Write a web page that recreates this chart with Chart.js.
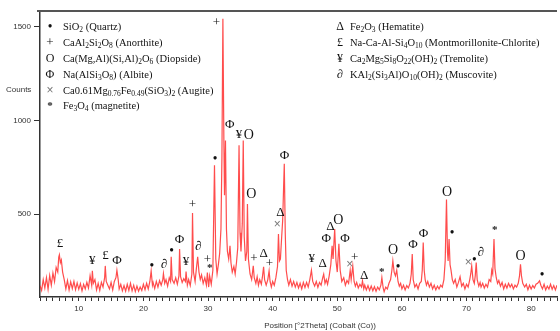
<!DOCTYPE html>
<html>
<head>
<meta charset="utf-8">
<script src="https://cdn.jsdelivr.net/npm/chart.js@4/dist/chart.umd.min.js"></script>
<style>
  html, body { margin: 0; padding: 0; background: #fff; }
  #wrap { width: 560px; height: 331px; }
</style>
</head>
<body>
<div id="wrap"><canvas id="xrd"></canvas></div>
<script>
// scan, [2theta, counts]
const scanLow = [
  [4.00,118],[4.25,92],[4.50,150],[4.75,105],[5.00,160],[5.25,98],[5.50,172],[5.75,120],
  [6.00,185],[6.25,140],[6.50,215],[6.75,190],[6.90,270],[7.00,282],[7.15,240],[7.30,255],
  [7.50,190],[7.75,150],[8.00,100],[8.25,145],[8.50,95],[8.75,138],[9.00,102],[9.25,140],
  [9.50,96],[9.75,132],[10.00,98],[10.25,128],[10.50,90],[10.75,125],[11.00,100],[11.25,135],
  [11.50,105],[11.75,170],[12.00,120],[12.10,197],[12.25,130],[12.50,150],[12.75,95],[13.00,130],
  [13.25,92],[13.50,135],[13.75,110],[14.00,160],[14.10,223],[14.25,140],[14.50,120],[14.75,100],
  [15.00,135],[15.25,95],[15.50,140],[15.75,160],[15.90,200],[16.10,150],[16.25,100],[16.50,125],
  [16.75,90],[17.00,118],[17.25,88],[17.50,125],[17.75,92],[18.00,130],[18.25,90],[18.50,120],
  [18.75,86],[19.00,115],[19.25,88],[19.50,110],[19.75,92],[20.00,125]
];
const scanMid = [
  [20.25,96],[20.50,130],[20.75,100],[21.00,140],[21.20,196],[21.40,120],[21.50,135],[21.75,102],
  [22.00,140],[22.25,110],[22.50,145],[22.75,120],[23.00,150],[23.10,182],[23.30,130],[23.50,150],
  [23.75,115],[24.00,160],[24.20,140],[24.30,272],[24.45,150],[24.75,130],[25.00,160],[25.25,125],
  [25.50,170],[25.60,313],[25.75,165],[26.00,135],[26.25,155],[26.50,140],[26.60,193],[26.80,120],
  [27.00,150],[27.25,118],[27.50,180],[27.60,505],[27.75,190],[28.00,140],[28.20,210],[28.40,272],
  [28.60,190],[28.80,150],[29.00,175],[29.25,130],[29.50,160],[29.75,120],[29.90,188],[30.10,110],
  [30.25,170],[30.50,125],[30.75,200],[31.00,760],[31.20,260],[31.40,180],[31.60,230],[31.80,290],
  [32.00,420],[32.15,800],[32.30,1542],[32.45,900],[32.55,600],[32.70,893],[32.85,420],[33.00,300],
  [33.20,260],[33.40,330],[33.55,240],[33.75,190],[34.00,220],[34.20,180],[34.40,240],[34.60,320],
  [34.80,867],[34.95,400],[35.10,300],[35.30,450],[35.45,893],[35.60,380],[35.80,250],[36.00,300],
  [36.10,554],[36.25,260],[36.50,180],[36.75,150],[37.00,223],[37.15,160],[37.40,130],[37.60,165],
  [37.80,120],[38.00,150],[38.25,125],[38.40,160],[38.60,218],[38.75,150],[39.00,120],[39.25,150],
  [39.45,197],[39.60,140],[39.80,110],[40.00,140],[40.25,120],[40.50,160],[40.75,220],[40.90,393],
  [41.05,250],[41.20,260],[41.40,380],[41.55,465],[41.80,768],[41.95,400],[42.10,200],[42.30,150],
  [42.50,120],[42.75,150],[43.00,115],[43.25,140],[43.50,110],[43.75,135],[44.00,105],[44.25,130],
  [44.50,100],[44.75,135],[45.00,108]
];
const scanHigh = [
  [45.25,135],[45.50,110],[45.75,150],[46.00,200],[46.20,140],[46.50,115],[46.75,140],[47.00,108],
  [47.25,135],[47.50,120],[47.75,160],[47.90,179],[48.10,130],[48.30,150],[48.50,125],[48.75,170],
  [49.00,230],[49.20,331],[49.35,260],[49.60,420],[49.80,250],[50.00,190],[50.25,341],[50.45,200],
  [50.70,140],[51.00,160],[51.25,120],[51.50,145],[51.75,130],[52.00,200],[52.15,150],[52.40,223],
  [52.60,140],[52.80,115],[53.00,135],[53.25,105],[53.50,125],[53.75,110],[53.90,143],[54.10,100],
  [54.25,120],[54.50,95],[54.75,118],[55.00,92],[55.25,115],[55.50,90],[55.75,112],[56.00,88],
  [56.25,110],[56.50,95],[56.75,120],[56.90,161],[57.10,105],[57.25,85],[57.50,110],[57.75,100],
  [58.00,130],[58.25,150],[58.45,200],[58.60,250],[58.80,190],[59.00,170],[59.20,200],[59.40,140],
  [59.60,115],[59.80,130],[60.00,100],[60.25,120],[60.50,95],[60.75,118],[61.00,105],[61.25,130],
  [61.45,180],[61.60,286],[61.75,150],[62.00,110],[62.25,125],[62.50,100],[62.75,130],[63.00,140],
  [63.15,200],[63.30,348],[63.45,200],[63.60,150],[63.80,120],[64.00,140],[64.25,110],[64.50,130],
  [64.75,100],[65.00,120],[65.25,95],[65.50,115],[65.75,100],[66.00,120],[66.25,110],[66.50,150],
  [66.70,250],[66.90,577],[67.05,300],[67.15,250],[67.30,366],[67.45,230],[67.60,200],[67.80,150],
  [68.00,130],[68.25,150],[68.50,110],[68.75,135],[69.00,165],[69.25,115],[69.50,130],[69.75,100],
  [70.00,125],[70.25,110],[70.50,150],[70.65,180],[70.80,223],[71.00,150],[71.20,130],[71.35,170],
  [71.50,241],[71.65,150],[71.90,115],[72.10,135],[72.25,110],[72.50,130],[72.75,105],[73.00,125],
  [73.25,110],[73.50,150],[73.75,140],[73.90,200],[74.05,180],[74.25,366],[74.40,210],[74.60,160],
  [74.80,130],[75.00,145],[75.25,115],[75.50,135],[75.75,100],[76.00,125],[76.25,105],[76.50,130],
  [76.75,110],[77.00,125],[77.25,100],[77.50,120],[77.75,110],[78.00,130],[78.20,170],[78.35,232],
  [78.50,170],[78.70,130],[79.00,110],[79.25,125],[79.50,95],[79.75,120],[80.00,100],[80.25,118],
  [80.50,105],[80.75,125],[81.00,130],[81.30,143],[81.50,120],[81.75,100],[82.00,125],[82.25,95],
  [82.50,115],[82.75,100],[83.00,125],[83.25,98],[83.50,118],[83.75,95],[84.00,120]
];

// phase symbols placed over peaks, [2theta, counts, symbol]
const peakMarks = [
  [7.08,340,'£'],[12.1,253,'¥'],[14.15,276,'£'],[15.9,253,'Φ'],[21.3,222,'•'],[23.2,228,'∂'],
  [24.35,303,'•'],[25.6,365,'Φ'],[26.6,244,'¥'],[27.6,552,'+'],[28.5,326,'∂'],[29.9,255,'+'],
  [30.25,210,'*'],[31.1,794,'•'],[31.3,1522,'+'],[33.35,975,'Φ'],[34.8,922,'¥'],[36.3,922,'O'],
  [36.7,606,'O'],[37.1,260,'+'],[38.6,290,'Δ'],[39.5,237,'+'],[40.7,445,'×'],[41.2,509,'Δ'],
  [41.85,812,'Φ'],[46.05,260,'¥'],[47.75,233,'Δ'],[48.3,370,'Φ'],[48.95,432,'Δ'],[50.15,468,'O'],
  [51.2,370,'Φ'],[51.95,232,'×'],[52.7,267,'+'],[54.15,174,'Δ'],[56.9,187,'*'],[58.65,304,'O'],
  [59.4,216,'•'],[61.7,335,'Φ'],[63.35,397,'Φ'],[67.0,614,'O'],[67.75,397,'•'],[70.25,242,'×'],
  [71.2,255,'•'],[72.2,294,'∂'],[74.35,415,'*'],[78.35,276,'O'],[81.7,174,'•']
];

// key, {n} is a subscript
const phasesLeft = [
  ['•', 'SiO{2} (Quartz)'],
  ['+', 'CaAl{2}Si{2}O{8} (Anorthite)'],
  ['O', 'Ca(Mg,Al)(Si,Al){2}O{6} (Diopside)'],
  ['Φ', 'Na(AlSi{3}O{8}) (Albite)'],
  ['×', 'Ca0.61Mg{0.76}Fe{0.49}(SiO{3}){2} (Augite)'],
  ['*', 'Fe{3}O{4} (magnetite)']
];
const phasesRight = [
  ['Δ', 'Fe{2}O{3} (Hematite)'],
  ['£', 'Na-Ca-Al-Si{4}O{10} (Montmorillonite-Chlorite)'],
  ['¥', 'Ca{2}Mg{5}Si{8}O{22}(OH){2} (Tremolite)'],
  ['∂', 'KAl{2}(Si{3}Al)O{10}(OH){2} (Muscovite)']
];

const yTicks = [500, 1000, 1500];

const SERIF = '"Liberation Serif", "Times New Roman", serif';
const SANS = '"Liberation Sans", Arial, sans-serif';

function symbolStyle(s, inKey) {
  if (s === '×') return { font: '12px ' + SANS, color: '#777' };
  if (s === '•') return { font: 'bold 12px ' + SERIF, color: '#111' };
  if (s === '*') return { font: 'bold 11px ' + SERIF, color: '#222' };
  if (s === '+') return { font: '13px ' + SERIF, color: '#111' };
  if (s === 'O') return { font: (inKey ? '12px ' : '14px ') + SERIF, color: '#111' };
  return { font: (inKey ? '12px ' : '13px ') + SERIF, color: '#111' };
}

function drawRich(ctx, str, x, y) {
  const parts = str.split(/\{([^}]*)\}/);
  let cx = x;
  parts.forEach((p, i) => {
    if (!p) return;
    const sub = i % 2 === 1;
    ctx.font = (sub ? '7.5px ' : '10.5px ') + SERIF;
    ctx.fillText(p, cx, sub ? y + 3 : y);
    cx += ctx.measureText(p).width;
  });
}

const overlay = {
  id: 'overlay',
  afterDraw(chart) {
    const { ctx, chartArea } = chart;
    const xs = chart.scales.x, ys = chart.scales.y;
    ctx.save();

    // frame top line
    ctx.strokeStyle = '#555';
    ctx.lineWidth = 2;
    ctx.beginPath();
    ctx.moveTo(chartArea.left - 3, chartArea.top);
    ctx.lineTo(chartArea.right, chartArea.top);
    ctx.stroke();

    // peak symbols
    ctx.textAlign = 'center';
    ctx.textBaseline = 'middle';
    peakMarks.forEach(([t, c, s]) => {
      const st = symbolStyle(s, false);
      ctx.font = st.font;
      ctx.fillStyle = st.color;
      ctx.fillText(s, xs.getPixelForValue(t), ys.getPixelForValue(c));
    });

    // phase key
    const rowY = [27, 43, 59, 75, 91, 106];
    const drawKey = (list, symX, textX) => {
      list.forEach(([s, label], i) => {
        const st = symbolStyle(s, true);
        ctx.textAlign = 'center';
        ctx.font = st.font;
        ctx.fillStyle = st.color;
        ctx.fillText(s, symX, rowY[i]);
        ctx.textAlign = 'left';
        ctx.fillStyle = '#111';
        drawRich(ctx, label, textX, rowY[i]);
      });
    };
    drawKey(phasesLeft, 50, 63);
    drawKey(phasesRight, 340, 350);

    // axis captions
    ctx.fillStyle = '#333';
    ctx.font = '8px ' + SANS;
    ctx.textAlign = 'left';
    ctx.fillText('Counts', 6, 90);
    ctx.textAlign = 'center';
    ctx.fillText('Position [°2Theta] (Cobalt (Co))', 320, 326);

    ctx.restore();
  }
};

new Chart(document.getElementById('xrd'), {
  type: 'line',
  data: {
    datasets: [{
      data: scanLow.concat(scanMid, scanHigh).map(([x, y]) => ({ x, y })),
      borderColor: 'rgba(255, 45, 45, 0.85)',
      borderWidth: 1.2,
      pointRadius: 0,
      tension: 0,
      fill: false
    }]
  },
  options: {
    responsive: true,
    maintainAspectRatio: false,
    animation: false,
    layout: { padding: { top: 11, right: 0, left: 0, bottom: 0 } },
    plugins: {
      legend: { display: false },
      tooltip: { enabled: false }
    },
    scales: {
      x: {
        type: 'linear',
        min: 4,
        max: 84,
        afterFit: s => { s.height = 34; },
        afterBuildTicks: s => {
          const t = [];
          for (let v = 4; v <= 84; v++) t.push({ value: v });
          s.ticks = t;
        },
        grid: { drawOnChartArea: false, tickLength: 4, color: '#333', tickWidth: 1 },
        border: { color: '#333', width: 1.5 },
        ticks: {
          autoSkip: false,
          maxRotation: 0,
          padding: 3,
          color: '#333',
          font: { size: 8, family: SANS },
          callback: v => (v % 10 === 0 ? String(v) : '')
        }
      },
      y: {
        min: 57,
        max: 1584,
        afterFit: s => { s.width = 40; },
        afterBuildTicks: s => { s.ticks = yTicks.map(v => ({ value: v })); },
        grid: { drawOnChartArea: false, tickLength: 6, color: '#333' },
        border: { color: '#333', width: 1.5 },
        ticks: {
          padding: 3,
          color: '#333',
          font: { size: 8, family: SANS },
          callback: v => String(v)
        }
      }
    }
  },
  plugins: [overlay]
});
</script>
</body>
</html>
